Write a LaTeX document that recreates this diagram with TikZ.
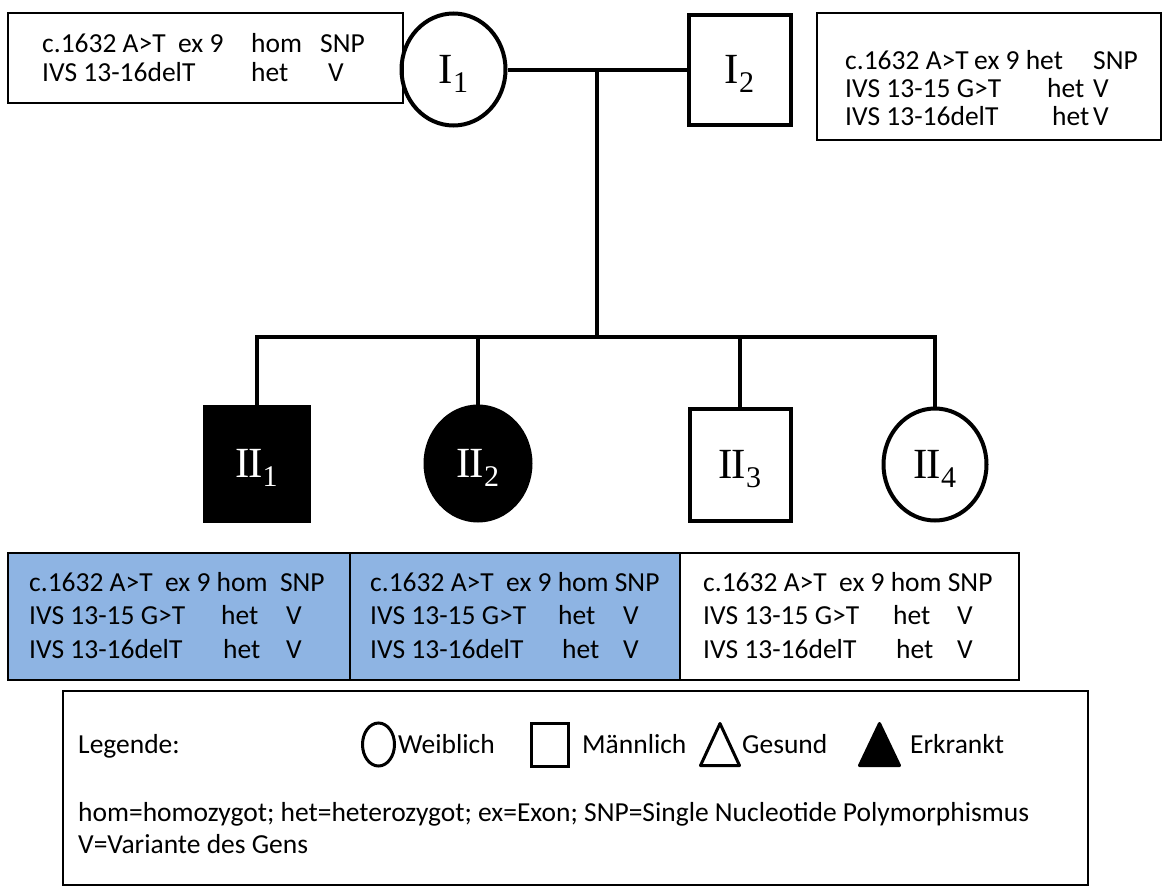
\documentclass[tikz,border=0pt]{standalone}
\usepackage{fontspec}
\setmainfont{Carlito}
\newfontfamily\tnr{Liberation Serif}
\usetikzlibrary{shapes.geometric}
\definecolor{boxblue}{RGB}{142,180,227}
\newcommand\cols[5]{\makebox[#1pt][l]{#2}\makebox[#3pt][l]{#4}#5}
\newcommand\plab[2]{{\tnr\fontsize{43}{43}\selectfont #1\raisebox{-9pt}{\fontsize{30}{30}\selectfont #2}}}
\newcommand\rII{I\kern-1.5pt I}
\begin{document}
\begin{tikzpicture}[x=1pt,y=-1pt,
  txt/.style={anchor=base west,inner sep=0pt,font=\fontsize{27.5}{33}\selectfont},
  fem/.style={ellipse,draw,line width=4pt,inner sep=0pt,text depth=0pt},
  mal/.style={rectangle,draw,line width=4pt,inner sep=0pt,text depth=0pt},
  aff/.style={fill=black,text=white},
  conn/.style={line width=4pt},
  infobox/.style={rectangle,draw,line width=1.8pt,inner sep=0pt},
  icon/.style={draw,line width=3pt,inner sep=0pt}
]
\useasboundingbox (0,0) rectangle (1165,889);
\fill[white] (0,0) rectangle (1165,889);

% pedigree symbols
\node[fem,minimum width=104,minimum height=112] (I1) at (453.5,69.5) {\plab{I}{1}};
\node[mal,minimum width=102,minimum height=110] (I2) at (739.5,69.5) {\plab{I}{2}};
\node[mal,aff,minimum width=104,minimum height=114] (II1) at (256.5,463.5) {\plab{\rII}{1}};
\node[fem,aff,minimum width=105,minimum height=114] (II2) at (478,463.5) {\plab{\rII}{2}};
\node[mal,minimum width=101,minimum height=112] (II3) at (740,464.5) {\plab{\rII}{3}};
\node[fem,minimum width=103,minimum height=112] (II4) at (935,464.5) {\plab{\rII}{4}};

% connectors
\coordinate (mid) at (597,69.5);
\coordinate (sibT) at (597,337);
\coordinate (sibL) at (256.5,337);
\coordinate (d2) at (478,337);
\coordinate (d3) at (740,337);
\coordinate (sibR) at (935,337);
\draw[conn] (I1) -- (I2);
\draw[conn] (mid) -- (sibT);
\draw[conn,line join=miter] (II1.north) -- (sibL) -- (sibR) -- (II4.north);
\draw[conn] (d2) -- (II2.north);
\draw[conn] (d3) -- (II3.north);

% info boxes
\node[infobox,minimum width=395,minimum height=90] (tl) at (205.5,58) {};
\node[infobox,minimum width=344,minimum height=127] (tr) at (989,76.5) {};
\node[infobox,line width=2pt,fill=boxblue,minimum width=342,minimum height=127] (b1) at (179,616.5) {};
\node[infobox,line width=2pt,fill=boxblue,minimum width=330,minimum height=127] (b2) at (515,616.5) {};
\node[infobox,line width=2pt,minimum width=339,minimum height=127] (b3) at (849.5,616.5) {};
\node[infobox,line width=2pt,minimum width=1025,minimum height=194] (leg) at (575.5,788) {};

% texts top-left
\node[txt] (tla) at (42,52) {\cols{209}{c.1632 A>T\ \ ex 9}{69}{hom}{SNP}};
\node[txt] (tlb) at (42,81) {\cols{209}{IVS 13-16delT}{77}{het}{V}};
% texts top-right
\node[txt] (tra) at (845,69) {\cols{129}{c.1632 A>T}{119}{ex 9 het}{SNP}};
\node[txt] (trb) at (845,97) {\cols{202}{IVS 13-15 G>T}{46}{het}{V}};
\node[txt] (trc) at (845,125) {\cols{207}{IVS 13-16delT}{41}{het}{V}};
% bottom boxes
\node[txt] (b1a) at (29,591) {c.1632 A>T\ \ ex 9 hom\ \ SNP};
\node[txt] (b1b) at (29,624.5) {\cols{192}{IVS 13-15 G>T}{65}{het}{V}};
\node[txt] (b1c) at (29,658) {\cols{194}{IVS 13-16delT}{63}{het}{V}};
\node[txt] (b2a) at (370,591) {c.1632 A>T\ \ ex 9 hom SNP};
\node[txt] (b2b) at (370,624.5) {\cols{188}{IVS 13-15 G>T}{65}{het}{V}};
\node[txt] (b2c) at (370,658) {\cols{192}{IVS 13-16delT}{61}{het}{V}};
\node[txt] (b3a) at (703,591) {c.1632 A>T\ \ ex 9 hom SNP};
\node[txt] (b3b) at (703,624.5) {\cols{190}{IVS 13-15 G>T}{64}{het}{V}};
\node[txt] (b3c) at (703,658) {\cols{193}{IVS 13-16delT}{61}{het}{V}};

% legend
\node[txt] (legT) at (78,753) {Legende:};
\node[icon,ellipse,minimum width=32,minimum height=43] (iF) at (378.5,744.5) {};
\node[txt] (wF) at (398,753) {Weiblich};
\node[icon,rectangle,minimum width=37,minimum height=43] (iM) at (550,744.5) {};
\node[txt] (wM) at (582,753) {Männlich};
\draw[line width=3pt,line join=round] (700.5,765.5) -- (720,723.5) -- (739.5,765.5) -- cycle;
\node[txt] (wG) at (742,753) {Gesund};
\filldraw[line width=3pt,line join=round] (859.5,765.5) -- (879.5,723.5) -- (899.5,765.5) -- cycle;
\node[txt] (wE) at (910,753) {Erkrankt};
\node[txt] (abbr) at (78,821) {hom=homozygot; het=heterozygot; ex=Exon; SNP=Single Nucleotide Polymorphismus};
\node[txt] (varV) at (78,853) {V=Variante des Gens};
\end{tikzpicture}
\end{document}
